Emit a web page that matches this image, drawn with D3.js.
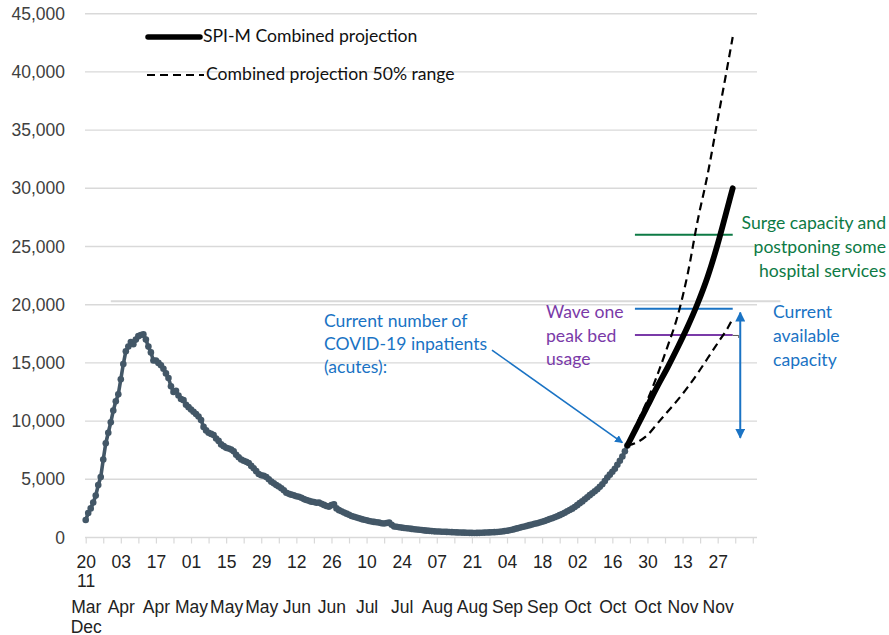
<!DOCTYPE html>
<html>
<head>
<meta charset="utf-8">
<script src="https://cdn.jsdelivr.net/npm/d3@7"></script>
<style>
  body { margin: 0; background: #fff; }
  svg { display: block; }
</style>
</head>
<body>
<svg id="chart" width="889" height="635"></svg>
<script>
// ---------------- DATA ----------------
const histStart = "2020-03-20";
// Daily COVID-19 inpatients (acutes), from 20 Mar 2020
const histValues = [
  1500,2100,2500,3000,3600,4500,5200,6700,8100,9000,
  9900,10900,11700,12300,13600,14900,16000,16400,16800,16600,
  17000,17300,17400,17450,17000,16400,15900,15200,15200,15000,
  14800,14500,14100,13700,13000,12500,12600,12200,11900,11800,
  11400,11200,11000,10800,10600,10400,10100,9500,9200,9000,
  8900,8800,8500,8300,8000,7850,7700,7650,7550,7400,
  7100,6900,6700,6600,6500,6400,6150,5950,5700,5450,
  5350,5300,5200,5000,4800,4650,4500,4380,4230,4050,
  3850,3750,3680,3620,3550,3500,3420,3300,3220,3150,
  3080,3050,2980,3000,2900,2800,2700,2650,2780,2850,
  2500,2350,2250,2150,2050,1950,1850,1780,1720,1650,
  1580,1520,1480,1420,1380,1340,1310,1280,1230,1200,
  1240,1280,1100,950,920,880,850,820,790,770,
  740,710,690,660,640,610,590,570,550,530,
  520,510,500,490,480,470,460,450,440,430,
  420,415,410,400,395,390,395,400,410,420,
  430,440,450,460,470,490,520,550,580,620,
  660,720,780,840,900,950,1000,1060,1120,1180,
  1230,1290,1350,1420,1500,1580,1660,1740,1820,1920,
  2020,2130,2250,2360,2480,2620,2780,2950,3100,3280,
  3450,3640,3800,3970,4150,4350,4580,4850,5150,5400,
  5650,5900,6250,6600,6950,7400,7900
];

const projDates   = ["2020-10-22","2020-10-26","2020-10-30","2020-11-03","2020-11-07","2020-11-11",
                     "2020-11-15","2020-11-19","2020-11-23","2020-11-27","2020-12-01","2020-12-03"];
const projCentral = [7900, 9600,11300,13000,14600,16300,18100,20100,22400,25200,28400,30000];
const projUpper   = [7900, 9900,11800,14000,16400,19000,22600,27200,31200,35900,40600,43000];
const projLower   = [7900, 8200, 8800, 9800,10800,11800,12900,14100,15400,16700,18000,18800];

const yTicks = [0,5000,10000,15000,20000,25000,30000,35000,40000,45000];
const xLabelDays   = ["20","03","17","01","15","29","12","26","10","24","07","21","04","18","02","16","30","13","27"];
const xLabelMonths = ["Mar","Apr","Apr","May","May","May","Jun","Jun","Jul","Jul","Aug","Aug","Sep","Sep","Oct","Oct","Oct","Nov","Nov"];
const xExtraFirst  = ["11","Dec"];

const capacityStart = "2020-10-25", capacityEnd = "2020-12-03";
const surgeCapacity = 26000;
const currentCapacity = 19650;
const waveOnePeak = 17400;
const baselineLineValue = 20300;
const baselineLineFrom = "2020-03-30", baselineLineTo = "2020-12-22";
const arrowCapDate = "2020-12-06", arrowCapTop = 19500, arrowCapBottom = 8400;
const pointerFrom = { date: "2020-08-29", value: 16100 };
const pointerTo   = { date: "2020-10-20", value: 8150 };

// ---------------- SCALES ----------------
const parse = d3.utcParse("%Y-%m-%d");
const t0 = parse(histStart);
const tEnd = parse("2020-12-13");
const x = d3.scaleUtc().domain([t0, tEnd]).range([85.7, 757.8]);
const y = d3.scaleLinear().domain([0, 45000]).range([537.5, 13.7]);

const hist = histValues.map((v, i) => ({ date: d3.utcDay.offset(t0, i), value: v }));
const projC = projDates.map((d, i) => ({ date: parse(d), value: projCentral[i] }));
const projU = projDates.map((d, i) => ({ date: parse(d), value: projUpper[i] }));
const projL = projDates.map((d, i) => ({ date: parse(d), value: projLower[i] }));

const svg = d3.select("#chart");
const gridColor = "#d9d9d9";
const axisFont = "'Liberation Sans', Arial, sans-serif";
const annFont = "Lato, 'Open Sans', sans-serif";

// ---------------- GRID ----------------
svg.append("g").selectAll("line")
  .data(yTicks.filter(d => d > 0))
  .join("line")
  .attr("x1", 85).attr("x2", 757)
  .attr("y1", d => y(d)).attr("y2", d => y(d))
  .attr("stroke", gridColor).attr("stroke-width", 1.4);

// extra grey line near 20,000
svg.append("line")
  .attr("x1", x(parse(baselineLineFrom))).attr("x2", x(parse(baselineLineTo)))
  .attr("y1", y(baselineLineValue)).attr("y2", y(baselineLineValue))
  .attr("stroke", gridColor).attr("stroke-width", 2);

// ---------------- Y AXIS LABELS ----------------
svg.append("g").selectAll("text")
  .data(yTicks)
  .join("text")
  .attr("x", 65).attr("y", d => y(d) + 6)
  .attr("text-anchor", "end")
  .attr("font-family", axisFont).attr("font-size", 17.5)
  .attr("fill", "#404040")
  .text(d => d3.format(",")(d));

// ---------------- X AXIS ----------------
const weekTicks = d3.range(0, 39).map(i => d3.utcDay.offset(t0, i * 7));
const labelDates = d3.range(xLabelDays.length).map(i => d3.utcDay.offset(t0, i * 14));

const minorAxis = d3.axisBottom(x).tickValues(weekTicks).tickSize(6).tickFormat("");
const gMinor = svg.append("g").attr("transform", `translate(0,${y(0)})`).call(minorAxis);
gMinor.select(".domain").attr("d", `M85,0H757`).attr("stroke", gridColor).attr("stroke-width", 1.4);
gMinor.selectAll(".tick line").attr("stroke", gridColor).attr("stroke-width", 1.2);

const labelAxis = d3.axisBottom(x).tickValues(labelDates).tickSize(0).tickPadding(0)
  .tickFormat((d, i) => xLabelDays[i]);
const gLab = svg.append("g").attr("transform", `translate(0,${y(0)})`).call(labelAxis);
gLab.select(".domain").remove();
gLab.selectAll(".tick text")
  .attr("font-family", axisFont).attr("font-size", 17.5).attr("fill", "#222")
  .attr("y", 30).attr("dy", 0)
  .each(function(d, i) {
    const t = d3.select(this);
    t.text(null);
    t.append("tspan").attr("x", 0).attr("y", 30).text(xLabelDays[i]);
    if (i === 0) t.append("tspan").attr("x", 0).attr("y", 49).text(xExtraFirst[0]);
    t.append("tspan").attr("x", 0).attr("y", 75).text(xLabelMonths[i]);
    if (i === 0) t.append("tspan").attr("x", 0).attr("y", 95).text(xExtraFirst[1]);
  });

// ---------------- CAPACITY LINES ----------------
const cx1 = x(parse(capacityStart)), cx2 = x(parse(capacityEnd));
svg.append("line").attr("x1", cx1).attr("x2", cx2)
  .attr("y1", y(surgeCapacity)).attr("y2", y(surgeCapacity))
  .attr("stroke", "#0d7a45").attr("stroke-width", 2);
svg.append("line").attr("x1", cx1).attr("x2", cx2)
  .attr("y1", y(currentCapacity)).attr("y2", y(currentCapacity))
  .attr("stroke", "#1a73c4").attr("stroke-width", 2);
svg.append("line").attr("x1", cx1).attr("x2", cx2)
  .attr("y1", y(waveOnePeak)).attr("y2", y(waveOnePeak))
  .attr("stroke", "#7a3aa8").attr("stroke-width", 2);
// small connector after purple line
svg.append("path")
  .attr("d", `M${cx2},${y(waveOnePeak) + 0.5}H${cx2 + 6}V${y(waveOnePeak) + 3}`)
  .attr("fill", "none").attr("stroke", "#555").attr("stroke-width", 1);

// ---------------- HISTORICAL SERIES ----------------
const histColor = "#435767";
svg.append("path").datum(hist)
  .attr("d", d3.line().x(d => x(d.date)).y(d => y(d.value)))
  .attr("fill", "none").attr("stroke", histColor).attr("stroke-width", 3.6)
  .attr("stroke-linejoin", "round");
svg.append("g").selectAll("circle").data(hist).join("circle")
  .attr("cx", d => x(d.date)).attr("cy", d => y(d.value)).attr("r", 3.3)
  .attr("fill", histColor);

// ---------------- PROJECTIONS ----------------
const projLine = d3.line().x(d => x(d.date)).y(d => y(d.value)).curve(d3.curveMonotoneX);
svg.append("path").datum(projU).attr("d", projLine)
  .attr("fill", "none").attr("stroke", "#000").attr("stroke-width", 2.2)
  .attr("stroke-dasharray", "8,5");
svg.append("path").datum(projL).attr("d", projLine)
  .attr("fill", "none").attr("stroke", "#000").attr("stroke-width", 2.2)
  .attr("stroke-dasharray", "8,5");
svg.append("path").datum(projC).attr("d", projLine)
  .attr("fill", "none").attr("stroke", "#000").attr("stroke-width", 5.8)
  .attr("stroke-linecap", "round");

// ---------------- ARROWS ----------------
const defs = svg.append("defs");
defs.append("marker").attr("id", "arrowBlue")
  .attr("viewBox", "0 0 10 10").attr("refX", 9).attr("refY", 5)
  .attr("markerWidth", 5).attr("markerHeight", 5).attr("orient", "auto-start-reverse")
  .append("path").attr("d", "M0,0L10,5L0,10z").attr("fill", "#1a73c4");

svg.append("line")
  .attr("x1", x(parse(arrowCapDate))).attr("x2", x(parse(arrowCapDate)))
  .attr("y1", y(arrowCapTop) + 2).attr("y2", y(arrowCapBottom) - 2)
  .attr("stroke", "#1a73c4").attr("stroke-width", 2)
  .attr("marker-start", "url(#arrowBlue)").attr("marker-end", "url(#arrowBlue)");

svg.append("line")
  .attr("x1", x(parse(pointerFrom.date))).attr("y1", y(pointerFrom.value))
  .attr("x2", x(parse(pointerTo.date))).attr("y2", y(pointerTo.value))
  .attr("stroke", "#1a73c4").attr("stroke-width", 1.6)
  .attr("marker-end", "url(#arrowBlue)");

// ---------------- ANNOTATION TEXT ----------------
function multiText(lines, xPos, yFirst, lh, anchor, color) {
  const t = svg.append("text").attr("font-family", annFont).attr("font-size", 17.6)
    .attr("fill", color).attr("text-anchor", anchor);
  lines.forEach((l, i) => t.append("tspan").attr("x", xPos).attr("y", yFirst + i * lh).text(l));
}
multiText(["Surge capacity and", "postponing some", "hospital services"], 886, 229, 24, "end", "#0d7a45");
multiText(["Current", "available", "capacity"], 773, 318, 24, "start", "#1a73c4");
multiText(["Wave one", "peak bed", "usage"], 546, 318, 23.5, "start", "#7a3aa8");
multiText(["Current number of", "COVID-19 inpatients", "(acutes):"], 324, 327, 23, "start", "#1a73c4");

// ---------------- LEGEND ----------------
svg.append("line").attr("x1", 148).attr("x2", 200).attr("y1", 37).attr("y2", 37)
  .attr("stroke", "#000").attr("stroke-width", 5.5).attr("stroke-linecap", "round");
svg.append("text").attr("x", 203).attr("y", 42).attr("font-family", annFont).attr("font-size", 17.6)
  .attr("fill", "#111").text("SPI-M Combined projection");
svg.append("line").attr("x1", 147).attr("x2", 204).attr("y1", 75).attr("y2", 75)
  .attr("stroke", "#000").attr("stroke-width", 2.2).attr("stroke-dasharray", "8,5");
svg.append("text").attr("x", 206).attr("y", 80).attr("font-family", annFont).attr("font-size", 17.6)
  .attr("fill", "#111").text("Combined projection 50% range");
</script>
</body>
</html>
